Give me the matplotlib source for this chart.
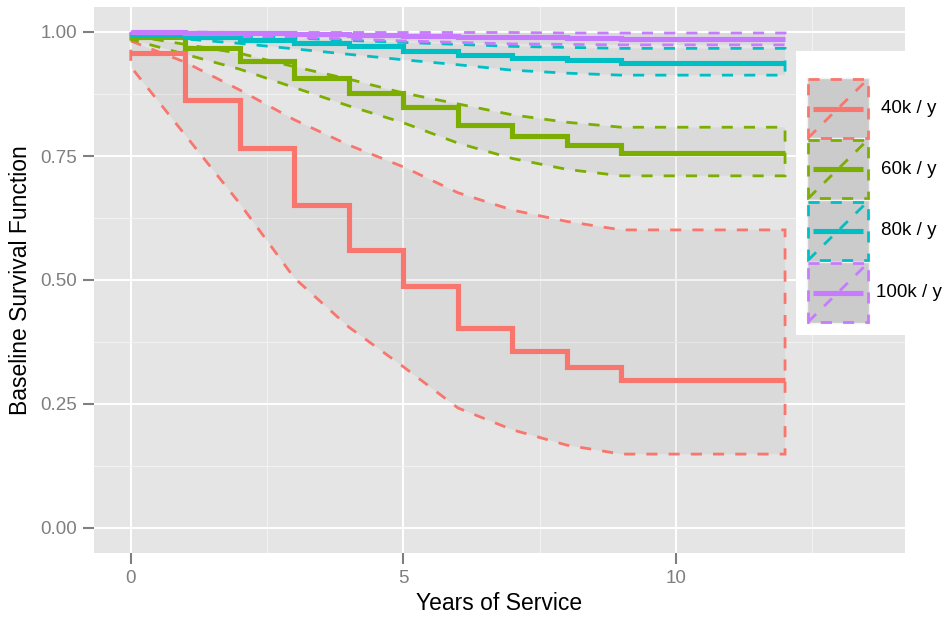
import matplotlib
matplotlib.use("Agg")
import matplotlib.pyplot as plt
from matplotlib.patches import Polygon, Rectangle

plt.rcParams['font.family'] = ['Liberation Sans', 'DejaVu Sans']

# step times (last point = end of follow-up)
times = [0, 1, 2, 3, 4, 5, 6, 7, 8, 9, 12]

groups = ["40k / y", "60k / y", "80k / y", "100k / y"]
colors = ["#F8766D", "#7CAE00", "#00BFC4", "#C77CFF"]

surv_40k = [0.957, 0.863, 0.767, 0.651, 0.560, 0.487, 0.403, 0.357, 0.325, 0.298, 0.298]
upper_40k = [0.982, 0.939, 0.883, 0.823, 0.772, 0.728, 0.676, 0.641, 0.618, 0.601, 0.601]
lower_40k = [0.930, 0.792, 0.654, 0.504, 0.405, 0.325, 0.242, 0.198, 0.167, 0.149, 0.149]

surv_60k = [0.989, 0.967, 0.942, 0.907, 0.878, 0.849, 0.812, 0.790, 0.773, 0.757, 0.757]
upper_60k = [0.993, 0.975, 0.957, 0.930, 0.905, 0.877, 0.855, 0.833, 0.818, 0.808, 0.808]
lower_60k = [0.985, 0.955, 0.925, 0.888, 0.851, 0.817, 0.776, 0.745, 0.723, 0.710, 0.710]

surv_80k = [0.993, 0.989, 0.984, 0.978, 0.971, 0.962, 0.954, 0.947, 0.944, 0.938, 0.938]
upper_80k = [0.998, 0.996, 0.992, 0.988, 0.983, 0.979, 0.975, 0.971, 0.969, 0.967, 0.967]
lower_80k = [0.993, 0.986, 0.977, 0.966, 0.955, 0.944, 0.934, 0.923, 0.917, 0.913, 0.913]

surv_100k = [0.999, 0.998, 0.997, 0.995, 0.994, 0.992, 0.990, 0.989, 0.988, 0.986, 0.986]
upper_100k = [1.000, 1.000, 0.999, 0.999, 0.999, 0.999, 0.999, 0.999, 0.998, 0.998, 0.998]
lower_100k = [0.997, 0.995, 0.992, 0.989, 0.986, 0.982, 0.979, 0.976, 0.975, 0.974, 0.974]

survs = [surv_40k, surv_60k, surv_80k, surv_100k]
uppers = [upper_40k, upper_60k, upper_80k, upper_100k]
lowers = [lower_40k, lower_60k, lower_80k, lower_100k]

W, H = 948, 620
fig = plt.figure(figsize=(W / 100, H / 100), dpi=100)
fig.patch.set_facecolor("white")

# panel
pl, pr, pt, pb = 93.7, 905, 7.2, 552.8
ax = fig.add_axes([pl / W, 1 - pb / H, (pr - pl) / W, (pb - pt) / H])
ax.set_facecolor("#E5E5E5")
for s in ax.spines.values():
    s.set_visible(False)
ax.set_xlim(-0.68, 14.2)
ax.set_ylim(-0.05, 1.05)

ax.set_xticks([0, 5, 10])
ax.set_xticks([2.5, 7.5, 12.5], minor=True)
ax.set_yticks([0, 0.25, 0.5, 0.75, 1.0])
ax.set_yticks([0.125, 0.375, 0.625, 0.875], minor=True)
ax.set_yticklabels(["0.00", "0.25", "0.50", "0.75", "1.00"])
ax.grid(which="major", color="white", lw=1.4)
ax.grid(which="minor", color="#F2F2F2", lw=0.8)
ax.set_axisbelow(True)
ax.tick_params(which="major", length=7.7, width=1.5, color="#7F7F7F",
               labelcolor="#7F7F7F", labelsize=13.5)
ax.tick_params(axis="x", pad=5)
ax.tick_params(axis="y", pad=4)
ax.tick_params(which="minor", length=0)

dash = (0, (4, 4))
dlw = 2.0

# confidence bands
for up, lo, c in zip(uppers, lowers, colors):
    pts = list(zip(times, up)) + list(zip(times[::-1], lo[::-1]))
    ax.add_patch(Polygon(pts, closed=True, facecolor="#7F7F7F", alpha=0.1,
                         edgecolor="none", zorder=2))
    ax.add_patch(Polygon(pts, closed=True, fill=False, edgecolor=c,
                         lw=dlw, linestyle=dash, zorder=3))

# baseline survival steps
for sv, c in zip(survs, colors):
    ax.step(times, sv, where="post", color=c, lw=3.7,
            solid_joinstyle="miter", solid_capstyle="butt", zorder=4)

ax.set_xlabel("Years of Service", fontsize=16.5, labelpad=3)
ax.set_ylabel("Baseline Survival Function", fontsize=16.5, labelpad=6)

# legend drawn in pixel coordinates
lx0, lx1, ly0, ly1 = 796, 948, 51, 335
lax = fig.add_axes([lx0 / W, 1 - ly1 / H, (lx1 - lx0) / W, (ly1 - ly0) / H])
lax.set_xlim(lx0, lx1)
lax.set_ylim(ly1, ly0)
lax.set_facecolor("white")
lax.axis("off")
lax.add_patch(Rectangle((lx0, ly0), lx1 - lx0, ly1 - ly0, facecolor="white",
                        edgecolor="none", zorder=0))
kx0, kx1 = 806.7, 869.3
key_tops = [77.7, 138.3, 200.0, 261.7]
kh = 61.6
for top, c, lab in zip(key_tops, colors, groups):
    lax.add_patch(Rectangle((kx0, top), kx1 - kx0, kh, facecolor="#CBCBCB",
                            edgecolor="#F2F2F2", lw=1, zorder=1))
    lax.add_patch(Rectangle((kx0 + 1.5, top + 1.5), kx1 - kx0 - 3, kh - 3,
                            fill=False, edgecolor=c, lw=dlw, linestyle=dash, zorder=2))
    lax.plot([kx0 + 1.5, kx1 - 1.5], [top + kh - 1.5, top + 1.5], color=c, lw=dlw,
             linestyle=dash, zorder=3)
    cy = top + kh / 2
    lax.plot([813, 863], [cy, cy], color=c, lw=3.7, solid_capstyle="butt", zorder=4)
    lax.text(909, cy, lab, ha="center", va="center", fontsize=13.5, color="black")

fig.savefig("out.png", dpi=100)
